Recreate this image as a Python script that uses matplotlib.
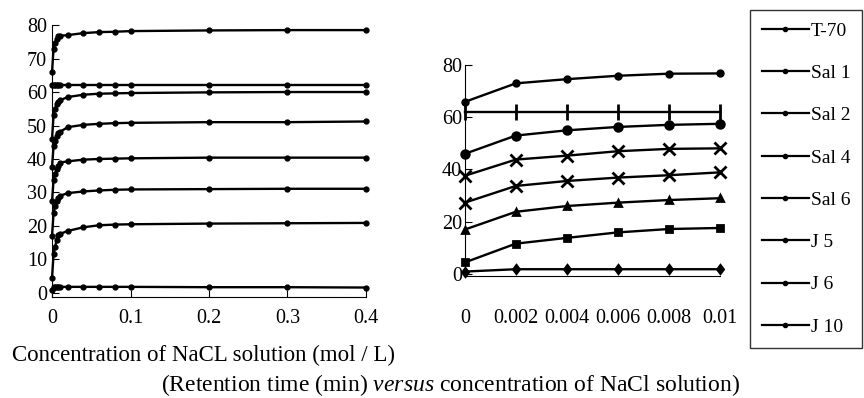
import matplotlib
matplotlib.use("Agg")
import matplotlib.pyplot as plt

plt.rcParams['font.family'] = ['Liberation Serif', 'DejaVu Serif']
plt.rcParams['mathtext.fontset'] = 'custom'
plt.rcParams['mathtext.rm'] = 'Liberation Serif'
plt.rcParams['mathtext.it'] = 'Liberation Serif:italic'

# concentration of NaCl (mol/L)
conc_low = [0, 0.002, 0.004, 0.006, 0.008, 0.01]
conc_high = [0.02, 0.04, 0.06, 0.08, 0.1, 0.2, 0.3, 0.4]

labels = ['T-70', 'Sal 1', 'Sal 2', 'Sal 4', 'Sal 6', 'J 5', 'J 6', 'J 10']

# retention time (min) at low concentrations
t70_low = [65.9, 73.0, 74.6, 75.9, 76.7, 76.8]
sal1_low = [62.0, 62.0, 62.0, 62.0, 62.0, 62.0]
sal2_low = [46.0, 53.0, 55.0, 56.3, 57.1, 57.5]
sal4_low = [37.6, 43.8, 45.3, 47.0, 47.9, 48.1]
sal6_low = [27.3, 33.7, 35.6, 36.9, 37.8, 38.9]
j5_low = [17.0, 23.8, 26.0, 27.3, 28.3, 29.0]
j6_low = [4.4, 11.6, 13.8, 15.9, 17.2, 17.6]
j10_low = [0.9, 1.8, 1.8, 1.8, 1.8, 1.8]

# retention time (min) at higher concentrations
t70_high = [77.0, 77.6, 77.9, 78.0, 78.2, 78.4, 78.5, 78.5]
sal1_high = [62.0, 62.0, 62.0, 62.0, 62.0, 62.0, 62.0, 62.0]
sal2_high = [58.5, 59.2, 59.5, 59.6, 59.7, 59.9, 60.0, 60.0]
sal4_high = [49.5, 50.2, 50.5, 50.7, 50.8, 51.0, 51.0, 51.2]
sal6_high = [39.3, 39.8, 40.0, 40.1, 40.2, 40.4, 40.4, 40.4]
j5_high = [29.8, 30.3, 30.6, 30.8, 30.9, 31.0, 31.1, 31.1]
j6_high = [18.5, 19.6, 20.2, 20.4, 20.5, 20.7, 20.8, 20.9]
j10_high = [1.8, 1.8, 1.8, 1.8, 1.8, 1.7, 1.7, 1.6]

low = [t70_low, sal1_low, sal2_low, sal4_low, sal6_low, j5_low, j6_low, j10_low]
high = [t70_high, sal1_high, sal2_high, sal4_high, sal6_high, j5_high, j6_high, j10_high]
markers = ['o', '|', 'o', 'x', 'x', '^', 's', 'd']
msize_right = [4, 11, 5.5, 8, 9, 4.5, 5, 4.5]

fig = plt.figure(figsize=(8.64, 3.98), dpi=100)
ax1 = fig.add_axes([0.0602, 0.254, 0.3634, 0.683])
ax2 = fig.add_axes([0.538, 0.3065, 0.295, 0.530])

for i in range(len(labels)):
    xs = conc_low + conc_high
    ys = low[i] + high[i]
    ax1.plot(xs, ys, color='black', lw=1.7, marker='o', ms=3.5,
             clip_on=False, label=labels[i])
    ax2.plot(conc_low, low[i], color='black', lw=1.7, marker=markers[i],
             ms=msize_right[i], mew=2, clip_on=False)

ax1.set_xlim(0, 0.4)
ax1.set_ylim(-1.2, 80)
ax1.set_xticks([0, 0.1, 0.2, 0.3, 0.4])
ax1.set_xticklabels(['0', '0.1', '0.2', '0.3', '0.4'])
ax1.set_yticks(range(0, 81, 10))

ax2.set_xlim(0, 0.01)
ax2.set_ylim(-0.8, 80)
ax2.set_xticks(conc_low)
ax2.set_xticklabels(['0', '0.002', '0.004', '0.006', '0.008', '0.01'])
ax2.set_yticks([0, 20, 40, 60, 80])

for ax in (ax1, ax2):
    ax.spines['top'].set_visible(False)
    ax.spines['right'].set_visible(False)
    ax.tick_params(direction='in', labelsize=14.5, length=5)
ax1.tick_params(axis='x', pad=9)
ax2.tick_params(axis='x', pad=24, length=0)
ax2.tick_params(axis='y', pad=2)

leg = fig.legend(handles=[plt.Line2D([], [], color='black', lw=1.6, marker='o', ms=3)
                          for _ in labels], labels=labels,
                 loc='upper left', bbox_to_anchor=(0.868, 0.975),
                 fontsize=14, frameon=True, fancybox=False, edgecolor='black',
                 handlelength=2.4, handletextpad=0.1, labelspacing=1.27,
                 borderpad=0.62, borderaxespad=0)
leg.get_frame().set_linewidth(1.0)

fig.text(12 / 864, 1 - 355 / 398, 'Concentration of NaCL solution (mol / L)',
         fontsize=16.5, ha='left', va='center')
fig.text(451 / 864, 1 - 385 / 398,
         r'(Retention time (min) $\mathit{versus}$ concentration of NaCl solution)',
         fontsize=17, ha='center', va='center')

fig.savefig('out.png', dpi=100)
